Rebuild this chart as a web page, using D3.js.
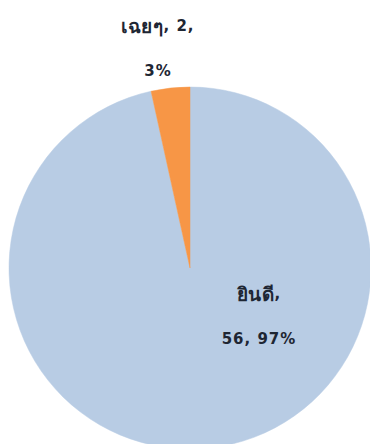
<!DOCTYPE html>
<html>
<head>
<meta charset="utf-8">
<script src="https://cdn.jsdelivr.net/npm/d3@7"></script>
<style>
  html, body { margin: 0; padding: 0; background: #ffffff; }
  svg { display: block; }
  text { font-family: "DejaVu Sans", "Noto Sans", sans-serif; font-weight: bold; font-size: 15px; fill: #1e2633; letter-spacing: 1px; }
  tspan.th { font-size: 19px; letter-spacing: 0.5px; }
</style>
</head>
<body>
<svg id="chart" width="370" height="444"></svg>
<script>
const categories = ["ยินดี", "เฉยๆ"];
const values = [56, 2];
const percents = ["97%", "3%"];
const colors = ["#b8cce4", "#f79646"];

const svg = d3.select("#chart");
const cx = 190, cy = 268, r = 181;

const pie = d3.pie().sort(null).value(d => d.value);
const arcs = pie(categories.map((c, i) => ({ name: c, value: values[i], pct: percents[i], color: colors[i] })));
const arc = d3.arc().innerRadius(0).outerRadius(r);

const g = svg.append("g").attr("transform", `translate(${cx},${cy})`);
g.selectAll("path").data(arcs).enter().append("path")
  .attr("d", arc)
  .attr("fill", d => d.data.color)
  .attr("stroke", d => d.data.color)
  .attr("stroke-width", 0.5);

// label layout: first line / second line
const labelPos = [
  { x: 259, y1: 294, y2: 339 },
  { x: 158, y1: 26, y2: 71 }
];
const lines = [
  [[categories[0], ","], [`${values[0]}, ${percents[0]}`]],
  [[categories[1], `, ${values[1]},`], [percents[1]]]
];
arcs.forEach((d, i) => {
  const p = labelPos[i];
  const t1 = svg.append("text").attr("x", p.x).attr("y", p.y1).attr("text-anchor", "middle")
    .attr("dominant-baseline", "central");
  t1.append("tspan").attr("class", "th").text(lines[i][0][0]);
  t1.append("tspan").text(lines[i][0][1]);
  svg.append("text").attr("x", p.x).attr("y", p.y2).attr("text-anchor", "middle")
    .attr("dominant-baseline", "central").text(lines[i][1][0]);
});
</script>
</body>
</html>
